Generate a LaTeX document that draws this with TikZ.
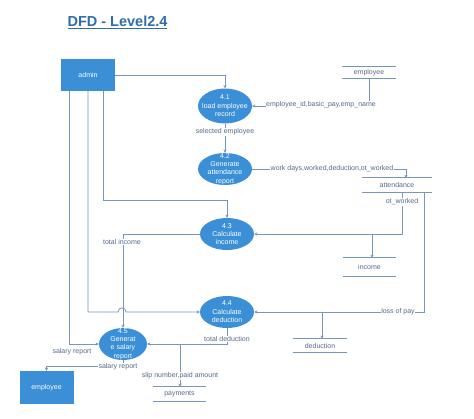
\documentclass[tikz,border=0pt]{standalone}
\usepackage{fontspec}
\setmainfont{Liberation Sans}
\usetikzlibrary{shapes.geometric,arrows.meta,calc}
\definecolor{procblue}{HTML}{3A8FD6}
\definecolor{linecol}{HTML}{7896BC}
\definecolor{labcol}{HTML}{56698A}
\definecolor{titlecol}{HTML}{2F6EAD}
\begin{document}
\begin{tikzpicture}[x=1pt,y=-1pt,
  proc/.style={ellipse,fill=procblue,inner sep=0pt,minimum width=54pt,minimum height=32pt,
     label={[text=white,align=center,inner sep=0pt,font=\fontsize{7}{8.4}\selectfont]center:#1}},
  ent/.style={rectangle,fill=procblue,text=white,inner sep=0pt,font=\fontsize{7}{8.4}\selectfont},
  store/.style={inner sep=0pt,text=labcol,font=\fontsize{7}{8.4}\selectfont},
  flow/.style={draw=linecol,line width=0.8pt,-{Stealth[length=3.2pt,width=3.2pt]}},
  plain/.style={draw=linecol,line width=0.8pt},
  lab/.style={text=labcol,font=\fontsize{7}{8.4}\selectfont,inner sep=0.5pt,fill=white}]
\useasboundingbox (0,0) rectangle (474,418);
% title
\node[text=titlecol,font=\fontsize{14.5}{17}\bfseries\selectfont,inner sep=0pt] (title) at (117.5,22) {\underline{DFD - Level2.4}};
% entities
\node[ent,minimum width=54pt,minimum height=32pt] (admin) at (88,75) {admin};
\node[ent,minimum width=54pt,minimum height=33pt] (emp) at (46.5,387.5) {employee};
% processes
\node[proc={4.1\\load employee\\record},minimum height=35pt] (p41) at (225,106) {};
\node[proc={4.2\\Generate\\attendance\\report}] (p42) at (225,169) {};
\node[proc={4.3\\Calculate\\income}] (p43) at (227,234) {};
\node[proc={4.4\\Calculate\\deduction}] (p44) at (227,312) {};
\node[proc={4.5\\Generat\\e salary\\report},minimum width=48pt] (p45) at (123,344) {};
% data stores
\node[store,minimum width=54pt,minimum height=11pt] (est) at (369,72.5) {employee};
\node[store,minimum width=70pt,minimum height=14pt] (att) at (397,185) {attendance};
\node[store,minimum width=53pt,minimum height=18pt] (inc) at (369.5,267) {income};
\node[store,minimum width=54pt,minimum height=13pt] (ded) at (320,345.5) {deduction};
\node[store,minimum width=53pt,minimum height=14pt] (pay) at (179.5,394) {payments};
\foreach \s in {est,att,inc,ded,pay}{
  \draw[plain] (\s.north west) -- (\s.north east);
  \draw[plain] (\s.south west) -- (\s.south east);
}
% helper coordinates
\coordinate (ad1) at (69,91);
\coordinate (ad2) at (88,91);
\coordinate (ad3) at (103,91);
\coordinate (a1) at (402,192);
\coordinate (a2) at (424,192);
\coordinate (attin) at (406,178);
\coordinate (j1) at (372,234);
\coordinate (j2) at (322,312);
\coordinate (j3) at (180,344);
\coordinate (h1) at (118,312);
\coordinate (h2) at (126,312);
% flows
\draw[flow] (admin.east) -| (p41.north);
\draw[flow] (est.south) |- (p41.east);
\node[lab] (l1) at (321,105) {employee\_id,basic\_pay,emp\_name};
\draw[flow] (p41.south) -- (p42.north);
\node[lab] (l2) at (225,132) {selected employee};
\draw[flow] (p42.east) -| (attin);
\node[lab] (l3) at (332,169) {work days,worked,deduction,ot\_worked};
\draw[flow] (a1) |- (p43.east);
\node[lab] (l4) at (402,202) {ot\_worked};
\draw[flow] (j1) -- (j1 |- inc.north);
\draw[flow] (ad3) |- ($(p43.north)+(0,-17)$) -- (p43.north);
\draw[flow] (p43.west) -| (p45.north);
\node[lab] (l5) at (122,242) {total income};
\draw[flow] (ad2) |- (h1) .. controls (118,306.5) and (126,306.5) .. (h2) -- (p44.west);
\draw[flow] (a2) |- (p44.east);
\node[lab] (l6) at (398,312) {loss of pay};
\draw[flow] (j2) -- (j2 |- ded.north);
\draw[flow] (p44.south) |- (p45.east);
\node[lab] (l7) at (227,339) {total deduction};
\draw[flow] (j3) -- (j3 |- pay.north);
\node[lab] (l8) at (180,376) {slip number,paid amount};
\draw[flow] (ad1) |- (p45.west);
\node[lab,fill=none] (sr1) at (72,351.5) {salary report};
\draw[flow] (p45.south) |- ($(emp.north)+(0,-4)$) -- (emp.north);
\node[lab] (sr2) at (118,367) {salary report};
\end{tikzpicture}
\end{document}
